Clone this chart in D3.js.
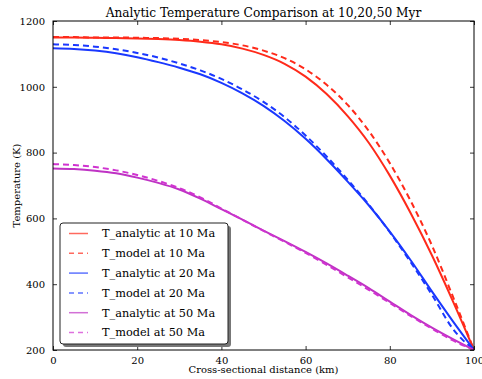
<!DOCTYPE html>
<html>
<head>
<meta charset="utf-8">
<script src="https://cdn.jsdelivr.net/npm/d3@7"></script>
<style>
  body { margin: 0; background: #fff; }
  svg text { font-family: "DejaVu Serif", serif; fill: #000; }
</style>
</head>
<body>
<div id="chart"></div>
<script>
// Cross-sectional distance (km) at which the curves were read
const distance = [0, 5, 10, 15, 20, 25, 30, 35, 40, 45, 50, 55, 60, 65, 70, 75, 80, 85, 90, 95, 100];

// Temperature (K)
const analytic10 = [1150, 1150, 1149, 1148, 1147, 1145, 1142, 1137, 1129, 1116, 1097, 1070, 1031, 978, 911, 830, 730, 615, 488, 348, 200];
const model10 = [1151, 1151, 1150, 1150, 1149, 1148, 1146, 1142, 1136, 1126, 1110, 1087, 1053, 1006, 945, 866, 768, 652, 518, 362, 200];
const analytic20 = [1117, 1115, 1110, 1102, 1090, 1075, 1058, 1038, 1012, 980, 942, 896, 842, 780, 712, 640, 560, 472, 378, 287, 200];
const model20 = [1129, 1127, 1122, 1114, 1103, 1089, 1071, 1050, 1024, 992, 954, 908, 852, 788, 718, 642, 558, 466, 368, 264, 200];
const analytic50 = [752, 750, 745, 737, 724, 708, 688, 660, 628, 596, 563, 531, 498, 463, 426, 388, 347, 306, 268, 233, 200];
const model50 = [765, 762, 756, 746, 732, 714, 692, 664, 630, 596, 562, 529, 495, 459, 421, 383, 343, 303, 265, 229, 200];

const xTicks = [0, 20, 40, 60, 80, 100];
const yTicks = [200, 400, 600, 800, 1000, 1200];

const series = [
  { name: "T_analytic at 10 Ma", values: analytic10, color: "#ff2a1a", dash: null },
  { name: "T_model at 10 Ma", values: model10, color: "#ff2a1a", dash: "6,4" },
  { name: "T_analytic at 20 Ma", values: analytic20, color: "#1a38ff", dash: null },
  { name: "T_model at 20 Ma", values: model20, color: "#1a38ff", dash: "6,4" },
  { name: "T_analytic at 50 Ma", values: analytic50, color: "#bf33c4", dash: null },
  { name: "T_model at 50 Ma", values: model50, color: "#d033d0", dash: "6,4" },
];

const width = 482, height = 379;
const margin = { top: 21, right: 8, bottom: 29, left: 53 };
const innerWidth = width - margin.left - margin.right;
const innerHeight = height - margin.top - margin.bottom;

const x = d3.scaleLinear().domain([0, 100]).range([0, innerWidth]);
const y = d3.scaleLinear().domain([200, 1200]).range([innerHeight, 0]);

const svg = d3.select("#chart").append("svg")
  .attr("width", width)
  .attr("height", height);

const g = svg.append("g").attr("transform", `translate(${margin.left},${margin.top})`);

// Clip lines to the plot frame
svg.append("clipPath").attr("id", "plot-clip")
  .append("rect").attr("width", innerWidth).attr("height", innerHeight);

const line = d3.line()
  .x((d) => x(d[0]))
  .y((d) => y(d[1]))
  .curve(d3.curveMonotoneX);

const lines = g.append("g").attr("clip-path", "url(#plot-clip)");
series.forEach((s) => {
  lines.append("path")
    .datum(distance.map((d, i) => [d, s.values[i]]))
    .attr("fill", "none")
    .attr("stroke", s.color)
    .attr("stroke-width", 2)
    .attr("stroke-dasharray", s.dash)
    .attr("d", line);
});

// Ticks inward on all four sides, matplotlib style
const tickLen = 4;
const fmt = d3.format("d");
const axisStyle = (sel) => {
  sel.select(".domain").remove();
  sel.selectAll(".tick line").attr("stroke", "#000").attr("stroke-width", 0.8);
  sel.selectAll(".tick text").attr("font-size", "10px").attr("font-family", "DejaVu Serif").attr("fill", "#222");
};
const noLabels = (sel) => sel.selectAll(".tick text").remove();

g.append("g").attr("transform", `translate(0,${innerHeight})`)
  .call(d3.axisBottom(x).tickValues(xTicks).tickFormat(fmt).tickSizeInner(-tickLen).tickSizeOuter(0).tickPadding(7))
  .call(axisStyle);
g.append("g")
  .call(d3.axisTop(x).tickValues(xTicks).tickSizeInner(-tickLen).tickSizeOuter(0))
  .call(axisStyle)
  .call(noLabels);
g.append("g")
  .call(d3.axisLeft(y).tickValues(yTicks).tickFormat(fmt).tickSizeInner(-tickLen).tickSizeOuter(0).tickPadding(8))
  .call(axisStyle);
g.append("g").attr("transform", `translate(${innerWidth},0)`)
  .call(d3.axisRight(y).tickValues(yTicks).tickSizeInner(-tickLen).tickSizeOuter(0))
  .call(axisStyle)
  .call(noLabels);

g.append("rect")
  .attr("width", innerWidth)
  .attr("height", innerHeight)
  .attr("fill", "none")
  .attr("stroke", "#000")
  .attr("stroke-width", 1);

// Title and axis labels
svg.append("text")
  .attr("x", margin.left + innerWidth / 2)
  .attr("y", 17)
  .attr("text-anchor", "middle")
  .attr("font-size", "12.2px")
  .text("Analytic Temperature Comparison at 10,20,50 Myr");

svg.append("text")
  .attr("x", margin.left + innerWidth / 2)
  .attr("y", 373)
  .attr("text-anchor", "middle")
  .attr("font-size", "10px")
  .text("Cross-sectional distance (km)");

svg.append("text")
  .attr("transform", `translate(20,${margin.top + innerHeight / 2}) rotate(-90)`)
  .attr("text-anchor", "middle")
  .attr("font-size", "10px")
  .text("Temperature (K)");

// Legend with drop shadow
const lg = { x: 60, y: 223, w: 168, h: 121, rowH: 19.8 };
svg.append("rect")
  .attr("x", lg.x + 3).attr("y", lg.y + 3)
  .attr("width", lg.w).attr("height", lg.h)
  .attr("rx", 3)
  .attr("fill", "#777");
svg.append("rect")
  .attr("x", lg.x).attr("y", lg.y)
  .attr("width", lg.w).attr("height", lg.h)
  .attr("rx", 3)
  .attr("fill", "#fff")
  .attr("stroke", "#222")
  .attr("stroke-width", 1);

series.forEach((s, i) => {
  const cy = lg.y + 10.5 + i * lg.rowH;
  svg.append("line")
    .attr("x1", lg.x + 9).attr("x2", lg.x + 28)
    .attr("y1", cy).attr("y2", cy)
    .attr("stroke", s.color)
    .attr("stroke-opacity", 0.7)
    .attr("stroke-width", 1.5)
    .attr("stroke-dasharray", s.dash ? "5,4" : null);
  svg.append("text")
    .attr("x", lg.x + 42)
    .attr("y", cy)
    .attr("dy", "0.35em")
    .attr("font-size", "11.3px")
    .text(s.name);
});
</script>
</body>
</html>
